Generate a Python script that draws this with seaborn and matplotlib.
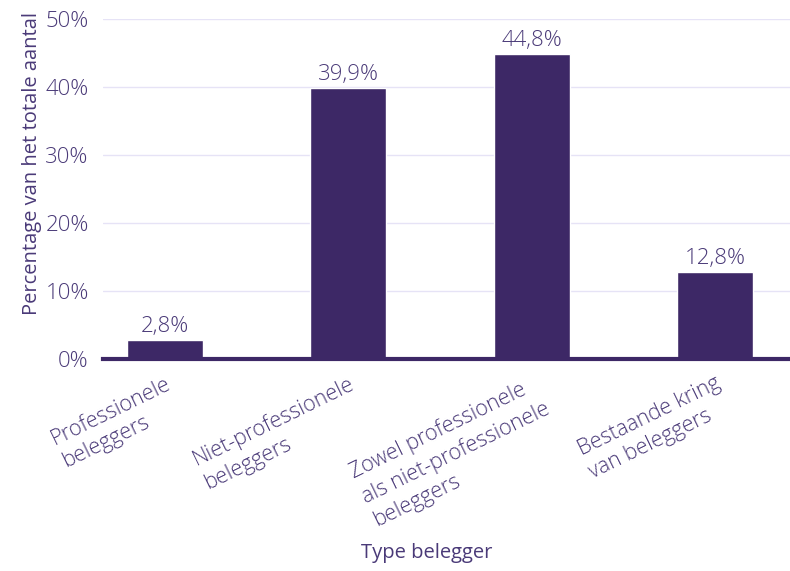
import matplotlib
matplotlib.use("Agg")
import matplotlib.pyplot as plt
import seaborn as sns
import pandas as pd
from matplotlib.ticker import FuncFormatter

categories = ["Professionele\nbeleggers", "Niet-professionele\nbeleggers",
              "Zowel professionele\nals niet-professionele\nbeleggers",
              "Bestaande kring\nvan beleggers"]
values = [2.8, 39.9, 44.8, 12.8]
labels = ["2,8%", "39,9%", "44,8%", "12,8%"]
yticks = [0, 10, 20, 30, 40, 50]

sns.set_theme(style="white")
plt.rcParams['font.family'] = ['Open Sans', 'DejaVu Sans']
plt.rcParams['font.weight'] = 'light'

bar_color = "#3d2866"
text_color = "#4a3a78"
grid_color = "#e6e3f6"
fs = 14.5
fs_num = 16
fs_cat = 15.5

df = pd.DataFrame({"cat": categories, "val": values})

fig = plt.figure(figsize=(7.9, 5.71), dpi=100)
ax = fig.add_axes([0.130, 0.371, 0.870, 0.596])
sns.barplot(data=df, x="cat", y="val", color=bar_color, width=0.415,
            saturation=1, ax=ax, zorder=3)

ax.set_ylim(0, 50)
ax.set_xlim(-0.34, 3.41)
ax.set_yticks(yticks)
ax.yaxis.set_major_formatter(FuncFormatter(lambda v, p: f"{int(v)}%"))
ax.grid(axis="y", color=grid_color, linewidth=1, zorder=0)
for s in ["top", "right", "left"]:
    ax.spines[s].set_visible(False)
ax.spines["bottom"].set_color(bar_color)
ax.spines["bottom"].set_linewidth(3)
ax.spines["bottom"].set_zorder(4)
ax.tick_params(axis="both", length=0, colors=text_color)
ax.tick_params(axis="y", pad=10, labelsize=fs_num)

for i, (v, l) in enumerate(zip(values, labels)):
    ax.annotate(l, (i, v), xytext=(0, 2), textcoords="offset points",
                ha="center", va="bottom", color=text_color, fontsize=fs_num)

ax.set_xticks(range(len(categories)))
ax.set_xticklabels(categories, rotation=26, ha="right", rotation_mode="anchor",
                   multialignment="left", linespacing=1.3,
                   color=text_color, fontsize=fs_cat)
ax.tick_params(axis="x", pad=10)

ax.set_xlabel("Type belegger", color=text_color, fontsize=fs, fontweight="normal")
ax.xaxis.set_label_coords(0.472, -0.54)
ax.set_ylabel("Percentage van het totale aantal", color=text_color, fontsize=fs,
              fontweight="normal")
ax.yaxis.set_label_coords(-0.089, 0.576)

fig.savefig("out.png", dpi=100)
